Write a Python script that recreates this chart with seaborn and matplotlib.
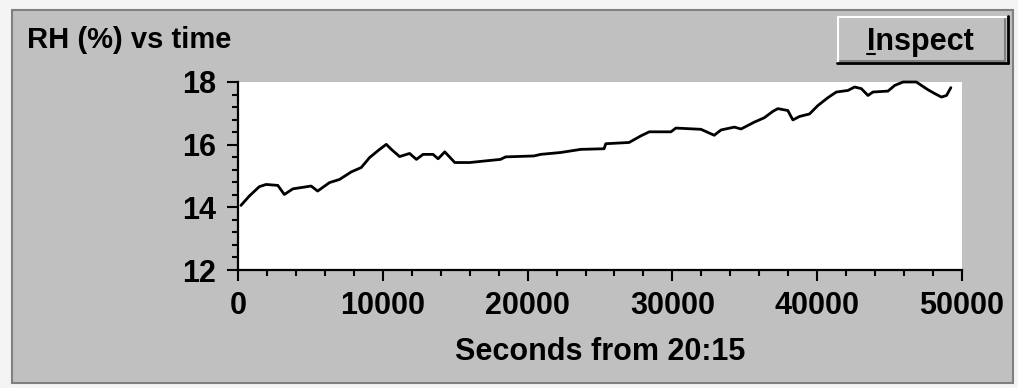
import matplotlib
matplotlib.use('Agg')
import matplotlib.pyplot as plt
import seaborn as sns
from matplotlib.patches import Rectangle
from matplotlib.lines import Line2D
from matplotlib.ticker import MultipleLocator

# RH readings, seconds from 20:15
seconds = [200, 780, 1470, 1940, 2750, 3200, 3790, 5050, 5500, 6320,
           7010, 7820, 8510, 9090, 9780, 10240, 10590, 11160, 11850, 12320,
           12780, 13470, 13820, 14280, 14970, 16010, 17050, 18130, 18480, 20440,
           20900, 22280, 23670, 25280, 25400, 27010, 27820, 28400, 29900, 30240,
           31970, 32890, 33360, 34280, 34740, 35660, 36350, 36930, 37280, 37970,
           38320, 38780, 39470, 40050, 40740, 41320, 42120, 42580, 43040, 43510,
           43850, 44890, 45350, 45930, 46850, 47200, 47660, 48120, 48580, 48930,
           49230]
rh = [14.06, 14.36, 14.66, 14.73, 14.70, 14.41, 14.59, 14.68, 14.52, 14.79,
      14.89, 15.13, 15.27, 15.59, 15.85, 16.01, 15.85, 15.62, 15.72, 15.53,
      15.69, 15.69, 15.55, 15.77, 15.43, 15.43, 15.48, 15.53, 15.61, 15.64,
      15.69, 15.75, 15.85, 15.87, 16.03, 16.07, 16.28, 16.41, 16.41, 16.53,
      16.49, 16.30, 16.47, 16.56, 16.50, 16.72, 16.86, 17.06, 17.15, 17.09,
      16.79, 16.90, 16.98, 17.25, 17.50, 17.68, 17.73, 17.84, 17.79, 17.57,
      17.68, 17.71, 17.89, 18.00, 18.00, 17.89, 17.75, 17.63, 17.52, 17.57,
      17.82]

title = 'RH (%) vs time'
xlabel = 'Seconds from 20:15'
button_label = 'Inspect'

sns.set_style('ticks')
plt.rcParams['font.family'] = ['Liberation Sans', 'DejaVu Sans']
plt.rcParams['font.weight'] = 'bold'

W, H = 1018, 388
fig = plt.figure(figsize=(W / 100, H / 100), dpi=100, facecolor='#f4f4f4')


def fx(x):
    return x / W


def fy(y):
    return 1 - y / H


def hline(x0, x1, y, color, lw=1.5):
    fig.add_artist(Line2D([fx(x0), fx(x1)], [fy(y), fy(y)], color=color, lw=lw,
                          transform=fig.transFigure))


def vline(x, y0, y1, color, lw=1.5):
    fig.add_artist(Line2D([fx(x), fx(x)], [fy(y0), fy(y1)], color=color, lw=lw,
                          transform=fig.transFigure))


# grey window panel (behind the axes)
fig.patches.append(Rectangle((fx(12), fy(383)), (1013 - 12) / W, (383 - 10) / H,
                             transform=fig.transFigure, facecolor='#c0c0c0',
                             edgecolor='#808080', lw=1.5, zorder=-10))

# plot area
ax = fig.add_axes([fx(238), fy(270), (962 - 238) / W, (270 - 82) / H])
sns.lineplot(x=seconds, y=rh, ax=ax, color='black', lw=2, clip_on=False)
ax.set_xlim(0, 50000)
ax.set_ylim(12, 18)
ax.set_facecolor('white')
for s in ['top', 'right']:
    ax.spines[s].set_visible(False)
for s in ['left', 'bottom']:
    ax.spines[s].set_color('black')
    ax.spines[s].set_linewidth(1.6)

ax.xaxis.set_major_locator(MultipleLocator(10000))
ax.xaxis.set_minor_locator(MultipleLocator(2000))
ax.yaxis.set_major_locator(MultipleLocator(2))
ax.yaxis.set_minor_locator(MultipleLocator(0.4))
ax.tick_params(which='major', length=8, width=1.5, color='black',
               labelsize=22, labelcolor='black', direction='out')
ax.tick_params(which='minor', length=4.5, width=1.5, color='black', direction='out')
ax.tick_params(axis='y', which='major', pad=8)
ax.tick_params(axis='x', which='major', pad=7)
for lab in ax.get_xticklabels() + ax.get_yticklabels():
    lab.set_fontweight('bold')

ax.set_xlabel(xlabel, fontsize=22, fontweight='bold', labelpad=12, color='black')
ax.set_ylabel('')

# title
fig.text(fx(27), fy(48), title, fontsize=21, fontweight='bold', va='baseline', color='black')

# Inspect button
fig.patches.append(Rectangle((fx(838), fy(63)), (1007 - 838) / W, (63 - 17) / H,
                             transform=fig.transFigure, facecolor='#c0c0c0', edgecolor='none'))
hline(838, 1006, 17, 'white')
vline(838, 17, 62, 'white')
hline(840, 1005, 61, '#808080')
vline(1005, 19, 61, '#808080')
hline(837, 1008, 63, 'black', lw=2)
vline(1007.5, 16, 63, 'black', lw=2)
fig.text(fx(867), fy(50), button_label, fontsize=22, fontweight='bold',
         va='baseline', color='black')
hline(867, 875, 54, 'black', lw=1.5)

fig.savefig('out.png', dpi=100, facecolor=fig.get_facecolor())
